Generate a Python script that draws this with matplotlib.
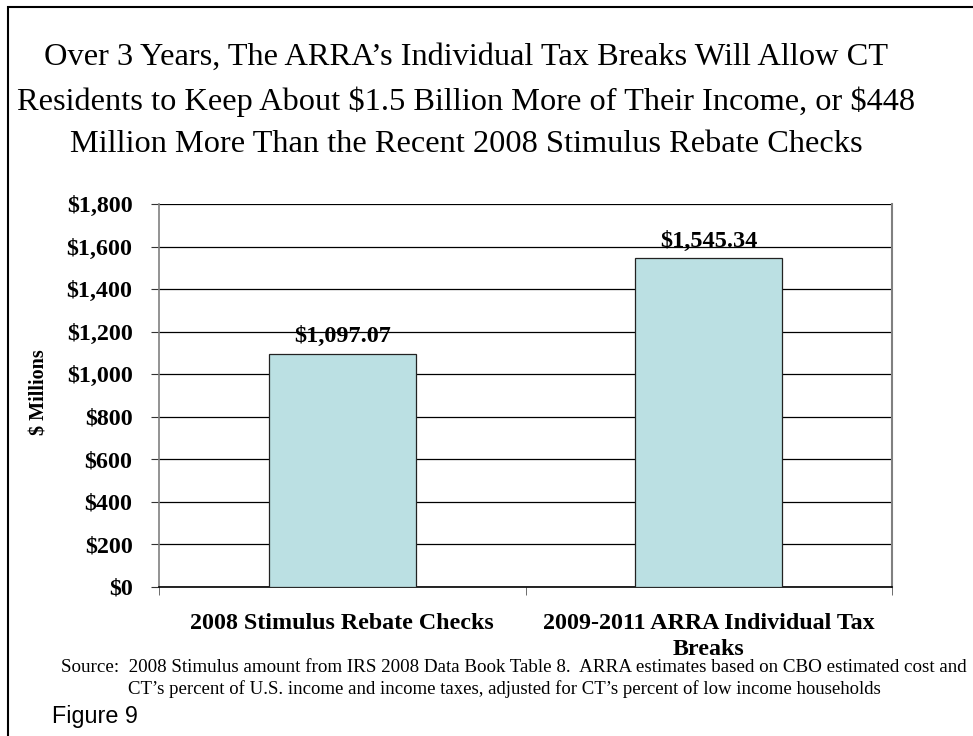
import matplotlib
matplotlib.use("Agg")
import matplotlib.pyplot as plt
from matplotlib.ticker import FixedLocator, FuncFormatter

categories = ["2008 Stimulus Rebate Checks", "2009-2011 ARRA Individual Tax\nBreaks"]
values = [1097.07, 1545.34]
value_labels = ["\\$1,097.07", "\\$1,545.34"]
yticks = [0, 200, 400, 600, 800, 1000, 1200, 1400, 1600, 1800]

title = ("Over 3 Years, The ARRA\u2019s Individual Tax Breaks Will Allow CT\n"
         "Residents to Keep About \\$1.5 Billion More of Their Income, or \\$448\n"
         "Million More Than the Recent 2008 Stimulus Rebate Checks")
source1 = ("Source:  2008 Stimulus amount from IRS 2008 Data Book Table 8.  ARRA estimates based on CBO estimated cost and")
source2 = "CT\u2019s percent of U.S. income and income taxes, adjusted for CT\u2019s percent of low income households"

serif = "Liberation Serif"
W, H = 973, 736
fig = plt.figure(figsize=(W/100, H/100), dpi=100)

# outer frame (top and left visible)
fig.add_artist(plt.Rectangle((8/W, -0.05), 1.2, 1 - 7/H + 0.05, transform=fig.transFigure,
                             fill=False, edgecolor="black", linewidth=1.5))

ax = fig.add_axes([159/W, 1 - 587/H, (892 - 159)/W, (587 - 204)/H])
x = list(range(len(categories)))
ax.bar(x, values, width=0.4, color="#BBE0E3", edgecolor="#222222", linewidth=0.9, zorder=3)
ax.set_xlim(-0.5, 1.5)
ax.set_ylim(0, 1800)
ax.yaxis.set_major_locator(FixedLocator(yticks))
ax.yaxis.set_major_formatter(FuncFormatter(lambda v, p: "\\${:,.0f}".format(v)))
ax.grid(axis="y", color="black", linewidth=0.9, zorder=0)
ax.spines["top"].set_visible(False)
ax.spines["right"].set_color("#808080")
ax.spines["right"].set_linewidth(1.5)
ax.spines["left"].set_color("#808080")
ax.spines["left"].set_linewidth(1.2)
ax.spines["bottom"].set_linewidth(1.2)

ax.set_xticks(x)
ax.set_xticklabels(categories, fontfamily=serif, fontweight="bold", fontsize=17.3, linespacing=1.35)
ax.tick_params(axis="x", which="major", length=0, pad=18.5)
ax.set_xticks([-0.5, 0.5, 1.5], minor=True)
ax.tick_params(axis="x", which="minor", length=6, direction="out", color="#555555")
ax.tick_params(axis="y", length=6, direction="out", pad=13, color="#333333")
for lab in ax.get_yticklabels():
    lab.set_fontfamily(serif)
    lab.set_fontweight("bold")
    lab.set_fontsize(17.3)

for xi, v, lbl in zip(x, values, value_labels):
    ax.text(xi, v + 30, lbl, ha="center", va="bottom", fontfamily=serif,
            fontweight="bold", fontsize=17.5)

fig.text(40/W, 1 - 392/H, "$ Millions", rotation=90, ha="center", va="center",
         fontfamily=serif, fontweight="bold", fontsize=14.5)

fig.text(466/W, 1 - 101/H, title, ha="center", va="center", fontfamily=serif,
         fontsize=23.3, linespacing=1.62)

fig.text(61/W, 1 - 668/H, source1, ha="left", va="center", fontfamily=serif, fontsize=13.7)
fig.text(128/W, 1 - 689/H, source2, ha="left", va="center", fontfamily=serif, fontsize=13.5)
fig.text(52/W, 1 - 717/H, "Figure 9", ha="left", va="center", fontfamily="Liberation Sans", fontsize=16.8)

fig.savefig("out.png", dpi=100)
